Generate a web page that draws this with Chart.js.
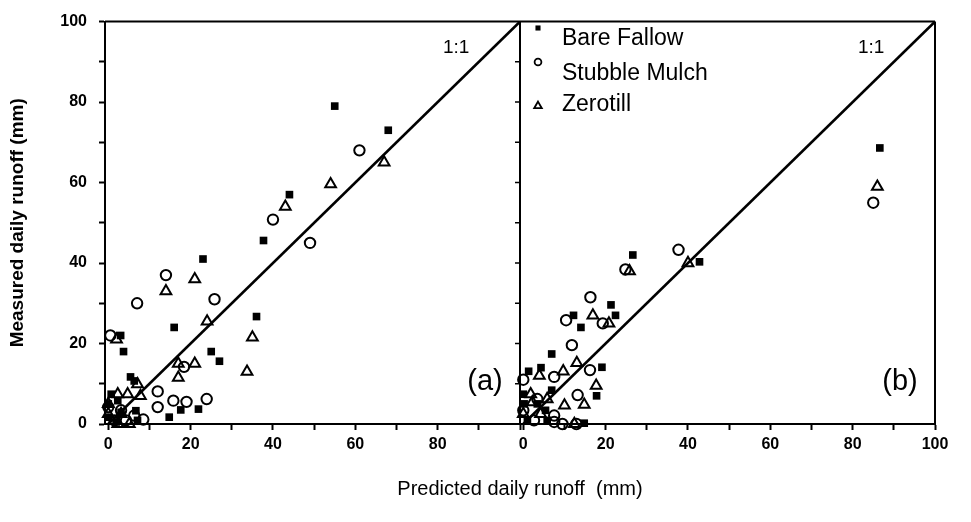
<!DOCTYPE html>
<html>
<head>
<meta charset="utf-8">
<script src="https://cdn.jsdelivr.net/npm/chart.js@4/dist/chart.umd.min.js"></script>
<style>
  html, body { margin: 0; padding: 0; background: #ffffff; }
  canvas { display: block; }
</style>
</head>
<body>
<canvas id="c" width="971" height="522"></canvas>
<script>
// ---------- DATA ----------
// Panel (a): [predicted, measured] in mm
const bareFallowA = [[55,79],[68,73],[44,57],[37.7,45.6],[23,41],[16,24],[36,26.7],[25,18],[27,15.6],
  [3,22],[3.7,18],[5.4,11.7],[6.3,10.7],[17.6,3.5],[21.9,3.7],[14.8,1.7],[0.7,7.4],[2.3,5.8],
  [0,5],[3.1,2.9],[0,1.7],[1.9,0.5],[7.1,0.9],[6.7,3.3]];
const stubbleMulchA = [[61,68],[40,50.8],[49,45],[14,37],[7,30],[25.8,31],[0.5,22],[12,8.1],[12,4.2],
  [15.8,5.8],[19,5.5],[23.9,6.2],[8.5,1.1],[18.4,14.2],[6.3,2.1],[4.3,0.9],[1.5,0.9],[3.1,3.4],[0,4.2]];
const zerotillA = [[67,65],[54,59.6],[43,54],[21,36],[14,33],[24,25.5],[35,21.5],[33.7,13],[17,15],
  [21,15],[17,11.5],[2,21],[7.1,9.9],[7.8,7],[2.3,7.4],[4.7,7.4],[0,5],[0,2.5],[2.3,0],[5.1,0],[3.1,2.5]];

// Panel (b)
const bareFallowB = [[86.6,68.6],[42.8,40.3],[26.6,42],[21.3,29.6],[22.4,27],[12.2,27],[14,24],[6.9,17.4],
  [4.3,14],[1.3,13.1],[19.1,14.1],[17.8,7],[6.9,8.4],[14.8,0.2],[0,7.4],[0.2,5],[3.4,5],[5.4,3.4],
  [1,0.9],[5.8,0.9]];
const stubbleMulchB = [[85,55],[37.7,43.3],[24.8,38.4],[16.3,31.5],[19.3,25],[10.4,25.8],[11.8,19.6],
  [7.5,11.7],[16.2,13.4],[13.2,7.2],[0,11],[7.5,2.1],[9.5,0],[12.9,0],[0,3.4],[2.6,0.9],[7.5,0.5],[3.4,6.2]];
const zerotillB = [[86,59],[40,40],[25.8,38],[16.9,27],[20.8,25],[13,15.2],[9.7,13.1],[17.7,9.5],
  [14.8,4.8],[10,4.6],[12.4,0],[3.9,12],[1.8,7.4],[2.2,5.4],[4.2,2.5],[0,2.5],[5.8,6.2]];

// 1:1 reference line
const oneToOne = [[0,0],[100,100]];

// Axis ticks
const yTickValues = [0,20,40,60,80,100];
const xTickValuesA = [0,20,40,60,80];
const xTickValuesB = [0,20,40,60,80,100];

// Labels
const seriesNames = ['Bare Fallow','Stubble Mulch','Zerotill'];
const panelLabels = ['(a)','(b)'];
const lineLabel = '1:1';
const xTitle = 'Predicted daily runoff  (mm)';
const yTitle = 'Measured daily runoff (mm)';

// ---------- STYLE ----------
const FONT = '"Liberation Sans", Arial, Helvetica, sans-serif';
const styles = [
  { pointStyle: 'rect', pointRadius: 5.4, backgroundColor: '#000', borderColor: '#000', borderWidth: 0 },
  { pointStyle: 'circle', pointRadius: 5.2, backgroundColor: 'rgba(0,0,0,0)', borderColor: '#000', borderWidth: 2 },
  { pointStyle: 'triangle', pointRadius: 6.2, backgroundColor: 'rgba(0,0,0,0)', borderColor: '#000', borderWidth: 2 }
];
const toXY = arr => arr.map(p => ({ x: p[0], y: p[1] }));

function scatterSet(name, arr, st, axis) {
  return Object.assign({
    type: 'scatter', label: name, data: toXY(arr), xAxisID: axis, yAxisID: 'y',
    clip: false, order: 1, pointHoverRadius: st.pointRadius
  }, st);
}
function lineSet(axis) {
  return {
    type: 'line', label: lineLabel, data: toXY(oneToOne), xAxisID: axis, yAxisID: 'y',
    borderColor: '#000', borderWidth: 2.6, pointRadius: 0, showLine: true, fill: false,
    tension: 0, order: 10
  };
}

const datasets = [
  scatterSet(seriesNames[0], bareFallowA, styles[0], 'xa'),
  scatterSet(seriesNames[1], stubbleMulchA, styles[1], 'xa'),
  scatterSet(seriesNames[2], zerotillA, styles[2], 'xa'),
  scatterSet(seriesNames[0], bareFallowB, styles[0], 'xb'),
  scatterSet(seriesNames[1], stubbleMulchB, styles[1], 'xb'),
  scatterSet(seriesNames[2], zerotillB, styles[2], 'xb'),
  lineSet('xa'),
  lineSet('xb')
];

// annotation placement (layout, in axis units)
const annot = {
  lineLabelPos: [84.5, 93.5],
  panelLabelPos: [91.5, 10.5]
};

function xAxis(ticksList) {
  return {
    type: 'linear', position: 'bottom', stack: 'panels', stackWeight: 1,
    min: -0.8, max: 100,
    afterFit: s => { s.height = 40; },
    border: { display: true, color: '#000', width: 2 },
    grid: { display: true, drawOnChartArea: false, drawTicks: true, tickLength: 6, tickWidth: 2, color: '#000' },
    ticks: {
      stepSize: 10, includeBounds: false, autoSkip: false, maxRotation: 0, minRotation: 0,
      color: '#000', padding: 5,
      font: { family: FONT, size: 16, weight: 'bold' },
      callback: v => ticksList.includes(v) ? String(v) : ''
    }
  };
}

const framePlugin = {
  id: 'frame',
  afterDatasetsDraw(chart) {
    const { ctx, chartArea: ca, scales } = chart;
    const xb = scales.xb, y = scales.y, xa = scales.xa;
    ctx.save();
    ctx.strokeStyle = '#000';
    ctx.lineWidth = 2;
    ctx.beginPath();
    ctx.moveTo(ca.left, ca.top); ctx.lineTo(ca.right, ca.top);
    ctx.moveTo(ca.right, ca.top); ctx.lineTo(ca.right, ca.bottom);
    ctx.moveTo(xb.left, ca.top); ctx.lineTo(xb.left, ca.bottom);
    ctx.stroke();
    // inward ticks on divider
    ctx.lineWidth = 1.5;
    ctx.beginPath();
    for (let v = 10; v < 100; v += 10) {
      const py = y.getPixelForValue(v);
      ctx.moveTo(xb.left - 5, py); ctx.lineTo(xb.left, py);
    }
    ctx.stroke();

    // 1:1 and panel labels
    ctx.fillStyle = '#000';
    ctx.textAlign = 'center';
    ctx.textBaseline = 'middle';
    ctx.font = '19px ' + FONT;
    [xa, xb].forEach(sc => {
      ctx.fillText(lineLabel, sc.getPixelForValue(annot.lineLabelPos[0]), y.getPixelForValue(annot.lineLabelPos[1]));
    });
    ctx.font = '29px ' + FONT;
    [xa, xb].forEach((sc, i) => {
      ctx.fillText(panelLabels[i], sc.getPixelForValue(annot.panelLabelPos[0]), y.getPixelForValue(annot.panelLabelPos[1]));
    });

    // legend inside panel (b)
    const rows = [
      { text: 39, mark: 28, r: 3.6 },
      { text: 74, mark: 62, r: 3.4 },
      { text: 105, mark: 106, r: 4.4 }
    ];
    ctx.textAlign = 'left';
    ctx.font = '23px ' + FONT;
    seriesNames.forEach((name, i) => {
      const st = styles[i];
      const row = rows[i];
      ctx.fillStyle = st.backgroundColor;
      ctx.strokeStyle = '#000';
      ctx.lineWidth = st.borderWidth ? 1.8 : 0;
      Chart.helpers.drawPoint(ctx, {
        pointStyle: st.pointStyle, radius: row.r, rotation: 0,
        borderWidth: st.borderWidth ? 1.8 : 0
      }, xb.left + 18, row.mark);
      ctx.fillStyle = '#000';
      ctx.fillText(name, xb.left + 42, row.text);
    });
    ctx.restore();
  }
};

new Chart(document.getElementById('c'), {
  data: { datasets },
  options: {
    responsive: false,
    animation: false,
    events: [],
    layout: { padding: { left: 0, top: 18, right: 36, bottom: 11 } },
    plugins: {
      legend: { display: false },
      tooltip: { enabled: false },
      title: {
        display: true, position: 'bottom', fullSize: false, text: xTitle, color: '#000',
        font: { family: FONT, size: 20, weight: 'normal' },
        padding: { top: 13, bottom: 10 }
      }
    },
    scales: {
      xa: xAxis(xTickValuesA),
      xb: xAxis(xTickValuesB),
      y: {
        type: 'linear', position: 'left', min: 0, max: 100,
        afterFit: s => { s.width = 105; },
        border: { display: true, color: '#000', width: 2 },
        grid: { display: true, drawOnChartArea: false, drawTicks: true, tickLength: 6, tickWidth: 2, color: '#000' },
        ticks: {
          stepSize: 10, autoSkip: false, color: '#000', padding: 12,
          font: { family: FONT, size: 16, weight: 'bold' },
          callback: v => yTickValues.includes(v) ? String(v) : ''
        },
        title: {
          display: true, text: yTitle, color: '#000',
          font: { family: FONT, size: 19, weight: 'bold' },
          padding: { top: 6, bottom: 0 }
        }
      }
    }
  },
  plugins: [framePlugin]
});
</script>
</body>
</html>
